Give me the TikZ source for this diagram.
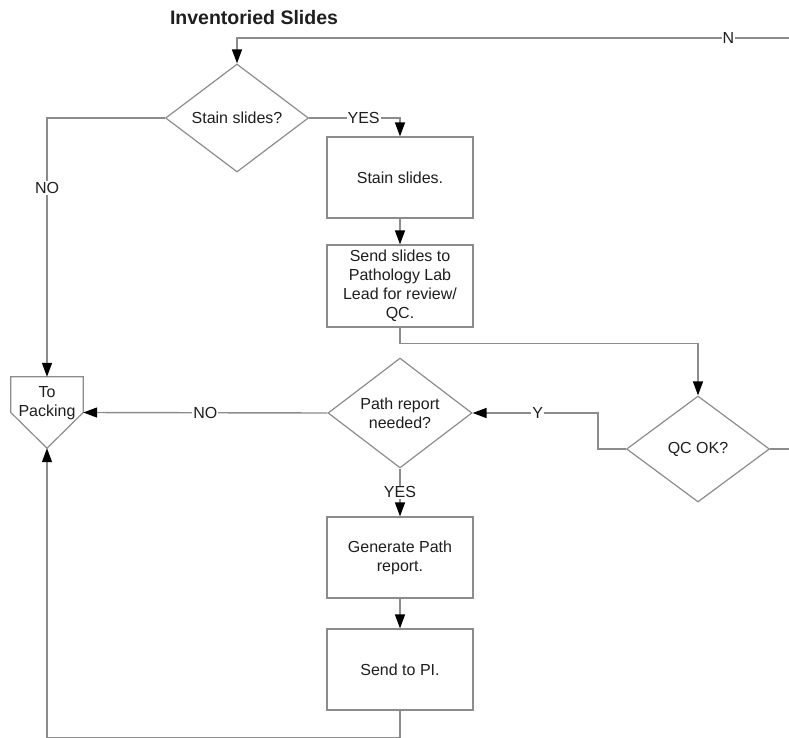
\documentclass[tikz,border=0pt]{standalone}
\usepackage{fontspec}
\setmainfont{Liberation Sans}
\usetikzlibrary{shapes.geometric,arrows.meta}
\definecolor{lgray}{HTML}{8C8C8C}
\definecolor{txt}{HTML}{1E1E1E}
\tikzset{
  ln/.style={draw=lgray,line width=1.4pt},
  arr/.style={ln,-{Triangle[length=14pt,width=10pt,color=black]}},
  dec/.style={diamond,draw=lgray,line width=1.2pt,inner sep=0pt,align=center,text=txt,font=\fontsize{16}{19}\selectfont},
  box/.style={rectangle,draw=lgray,line width=1.2pt,inner sep=0pt,align=center,text=txt,minimum width=146pt,font=\fontsize{16}{19}\selectfont},
  lbl/.style={fill=white,inner sep=1pt,text=txt,font=\fontsize{16}{19}\selectfont},
}
\begin{document}
\begin{tikzpicture}[x=1pt,y=-1pt]
\useasboundingbox (0,0) rectangle (789,738);
\node[font=\fontsize{19.5}{23}\selectfont\bfseries,text=txt] (title) at (254,18) {Inventoried Slides};

\node[dec,minimum width=143pt,minimum height=108pt] (stain) at (237,118) {Stain slides?};
\node[box,minimum height=81pt] (stainbox) at (400,177.5) {Stain slides.};
\node[box,minimum height=82pt] (sendbox) at (400,286) {Send slides to\\Pathology Lab\\Lead for review/\\QC.};
\node[dec,minimum width=143pt,minimum height=106pt] (qc) at (698,449) {QC OK?};
\node[dec,minimum width=144pt,minimum height=108pt] (path) at (400,413) {Path report\\needed?};
\node[box,minimum height=81pt] (genbox) at (400,557.5) {Generate Path\\report.};
\node[box,minimum height=81pt] (pibox) at (400,669.5) {Send to PI.};

% To Packing off-page connector
\node[draw=none,minimum width=72pt,minimum height=71pt,inner sep=0pt] (pack) at (47,412.5) {};
\draw[draw=lgray,line width=1.2pt] (pack.north west) -- (pack.north east) -- (pack.east) -- (pack.south) -- (pack.west) -- cycle;
\node[align=center,text=txt,font=\fontsize{16}{19}\selectfont,inner sep=0pt] (packtxt) at (47,403) {To\\Packing};

\coordinate (nstart) at (789,38);
\coordinate (qcout) at (789,449);

\draw[arr] (nstart) -- node[lbl,pos=0.11]{N} (stain.north |- nstart) -- (stain.north);
\draw[arr] (stain.east) -- node[lbl,pos=0.6]{YES} (stainbox.north |- stain.east) -- (stainbox.north);
\draw[arr] (stain.west) -- (pack.north |- stain.west) -- node[lbl,pos=0.27]{NO} (pack.north);
\draw[arr] (stainbox.south) -- (sendbox.north);
\draw[arr] (sendbox.south) -- ++(0,16) -| (qc.north);
\draw[arr] (qc.west) -- ++(-28,0) |- node[lbl,pos=0.74]{Y} (path.east);
\draw[arr] (path.west) -- node[lbl,pos=0.5]{NO} (pack.east);
\draw[arr] (path.south) -- node[lbl,pos=0.5]{YES} (genbox.north);
\draw[arr] (genbox.south) -- (pibox.north);
\draw[arr] (pibox.south) -- ++(0,27) -| (pack.south);
\draw[ln] (qc.east) -- (qcout);
\end{tikzpicture}
\end{document}
